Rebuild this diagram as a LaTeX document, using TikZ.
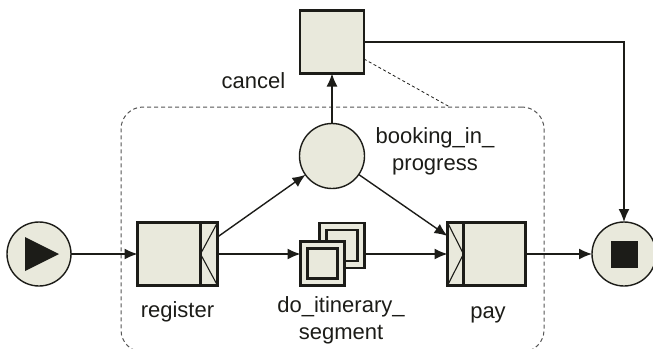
\documentclass[tikz,border=0pt]{standalone}
\usepackage{fontspec}
\setsansfont{Liberation Sans}
\usepackage{tikz}
\usetikzlibrary{arrows.meta, positioning, calc}
\definecolor{colorRelleno}{HTML}{E9E9DC}
\definecolor{colorTinta}{HTML}{1C1C18}
\definecolor{colorBorde}{HTML}{555555}

\begin{document}
\begin{tikzpicture}[
        x=1pt, y=-1pt,
        act/.style={draw=colorTinta, fill=colorRelleno, line width=2.8pt, inner sep=0pt, outer sep=0pt},
        evt/.style={circle, draw=colorTinta, fill=colorRelleno, line width=1.4pt,
            minimum size=64pt, inner sep=0pt, outer sep=0pt},
        lbl/.style={font=\sffamily\fontsize{22}{27}\selectfont, text=colorTinta, inner sep=0pt,
            anchor=base, align=center},
        rel/.style={-{Latex[length=13pt, width=11pt]}, line width=1.4pt, colorTinta},
        chev/.style={line width=1.1pt, colorTinta},
        band/.style={line width=2.8pt, colorTinta}
    ]
        \useasboundingbox (0,0) rectangle (653,348);

        % subproceso
        \node[draw=colorBorde, dash pattern=on 4pt off 3pt, line width=1pt, rounded corners=22pt,
            minimum width=423pt, minimum height=245pt, inner sep=0pt] (grp) at (332.5,229.5) {};

        \node[evt] (start) at (39,254) {};
        \fill[colorTinta] (start.center) ++(-14,-17) -- ++(0,34) -- ++(34,-17) -- cycle;

        \node[act, minimum width=80pt, minimum height=63pt] (reg) at (177.5,254) {};
        \draw[band] ([xshift=-17pt]reg.north east) -- ([xshift=-17pt]reg.south east);
        \draw[chev] (reg.north east) -- ([xshift=-17pt]reg.east) -- (reg.south east);

        \node[evt, minimum size=65pt] (book) at (332,156) {};
        \node[act, minimum width=64pt, minimum height=63pt] (cancel) at (332,42) {};

        \node[act, minimum size=45pt] (doback) at (342,245.5) {};
        \node[act, minimum size=31pt] (dobackin) at (doback) {};
        \node[act, minimum size=44pt] (dofront) at (322.5,263.5) {};
        \node[act, minimum size=30pt] (dofrontin) at (dofront) {};

        \node[act, minimum width=78pt, minimum height=63pt] (pay) at (486.5,254) {};
        \draw[band] ([xshift=16pt]pay.north west) -- ([xshift=16pt]pay.south west);
        \draw[chev] (pay.north west) -- ([xshift=16pt]pay.west) -- (pay.south west);

        \node[evt] (end) at (624,254) {};
        \fill[colorTinta] (end.center) ++(-13.5,-13.5) rectangle ++(27,27);

        % etiquetas
        \node[lbl] (reglbl) at (177.5,317.5) {register};
        \node[lbl] (paylbl) at (488,318) {pay};
        \node[lbl] (cancellbl) at (253.5,88) {cancel};
        \node[lbl] (booklbl) at (435,170) {booking\_in\_\\progress};
        \node[lbl] (dolbl) at (341,339) {do\_itinerary\_\\segment};

        \draw[rel] (start) -- (reg);
        \draw[rel] (reg.east) -- (reg.east -| dofront.west);
        \draw[rel] (pay.west -| doback.east) -- (pay.west);
        \draw[rel] ([yshift=17pt]reg.east) -- (book);
        \draw[rel] (book) -- ([yshift=18pt]pay.west);
        \draw[rel] (book) -- (cancel);
        \draw[rel] (cancel.east) -| (end.north);
        \draw[rel] (pay) -- (end);
        \draw[dash pattern=on 3pt off 2.5pt, line width=0.8pt, colorTinta]
            ([yshift=-17pt]cancel.east) -- ([xshift=116.5pt]grp.north);
    \end{tikzpicture}
\end{document}
